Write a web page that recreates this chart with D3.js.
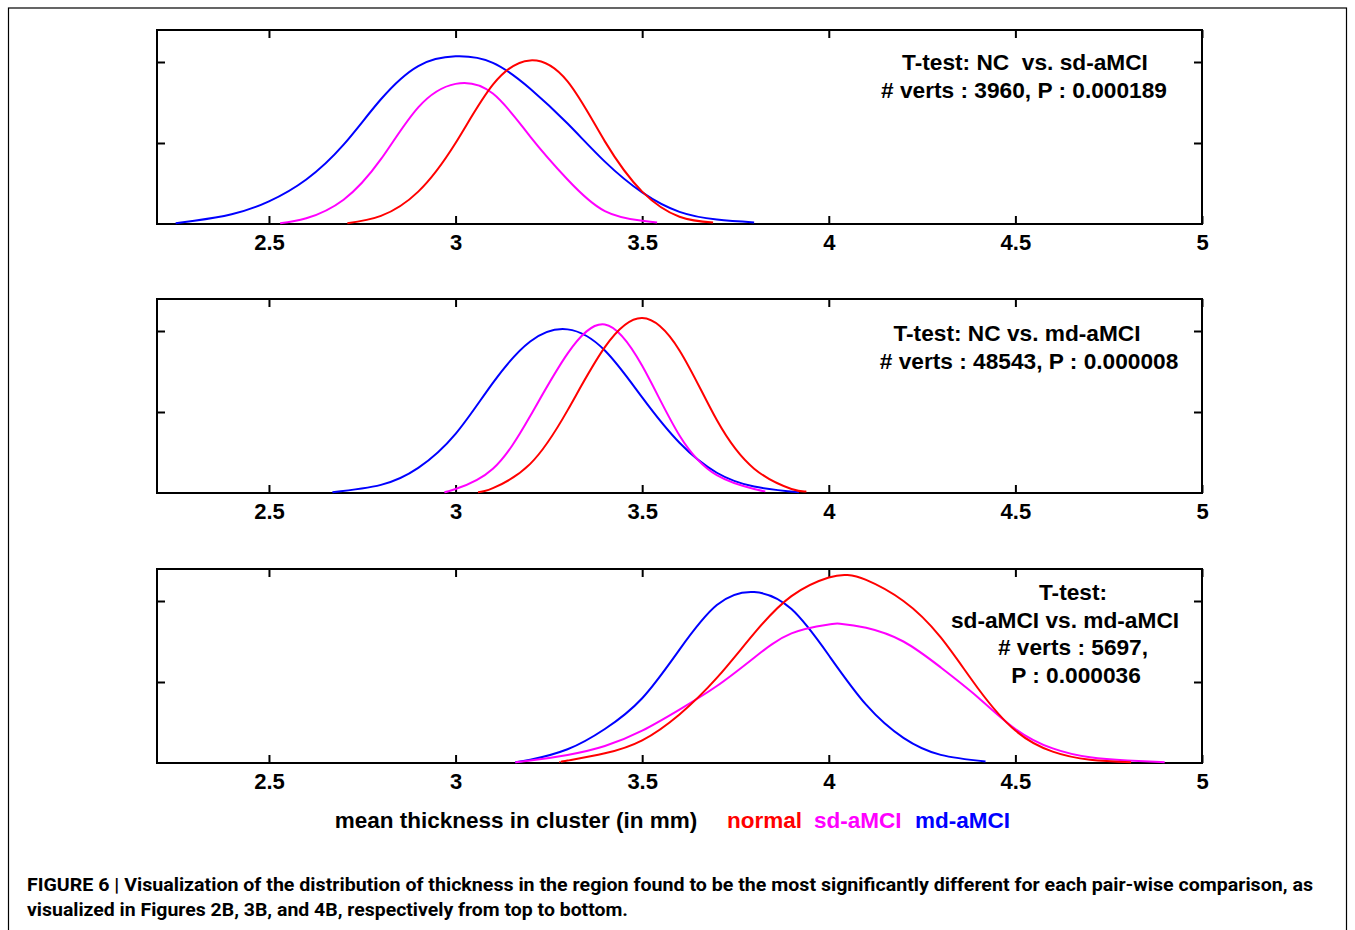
<!DOCTYPE html>
<html>
<head>
<meta charset="utf-8">
<script src="https://cdn.jsdelivr.net/npm/d3@7"></script>
<style>
  body { margin: 0; background: #fff; }
  text { font-family: "Liberation Sans", Arial, Helvetica, sans-serif; font-weight: bold; }
</style>
</head>
<body>
<svg id="chart" width="1355" height="930"></svg>
<script>
// ticks of the x axis (mm)
const xTicks = [2.5, 3, 3.5, 4, 4.5, 5];
const yTicks = [1, 2];

// top panel : NC vs sd-aMCI
const p1Normal = [[2.71,0.01],[2.8,0.10],[2.9,0.40],[3.0,1.00],[3.1,1.72],[3.2,2.02],[3.3,1.76],[3.4,1.02],[3.5,0.40],[3.6,0.09],[3.69,0.02]];
const p1Sd = [[2.53,0.01],[2.6,0.07],[2.7,0.30],[2.8,0.80],[2.9,1.44],[3.0,1.73],[3.1,1.61],[3.2,1.08],[3.3,0.55],[3.4,0.16],[3.5,0.04],[3.54,0.02]];
const p1Md = [[2.25,0.01],[2.3,0.04],[2.4,0.12],[2.5,0.28],[2.6,0.55],[2.7,0.98],[2.8,1.54],[2.9,1.95],[3.0,2.07],[3.1,1.99],[3.2,1.67],[3.3,1.24],[3.4,0.77],[3.5,0.39],[3.6,0.15],[3.7,0.055],[3.8,0.02]];

// middle panel : NC vs md-aMCI
const p2Normal = [[3.06,0.01],[3.1,0.06],[3.2,0.36],[3.3,1.02],[3.4,1.80],[3.5,2.16],[3.6,1.76],[3.7,0.90],[3.8,0.30],[3.9,0.05],[3.94,0.02]];
const p2Sd = [[2.97,0.01],[3.0,0.05],[3.1,0.30],[3.2,0.95],[3.3,1.72],[3.4,2.08],[3.5,1.57],[3.6,0.71],[3.7,0.22],[3.8,0.05],[3.83,0.02]];
const p2Md = [[2.67,0.01],[2.8,0.10],[2.9,0.31],[3.0,0.73],[3.1,1.36],[3.2,1.87],[3.3,2.02],[3.4,1.76],[3.5,1.18],[3.6,0.62],[3.7,0.25],[3.8,0.08],[3.92,0.01]];

// bottom panel : sd-aMCI vs md-aMCI
const p3Normal = [[3.28,0.01],[3.3,0.03],[3.4,0.12],[3.5,0.28],[3.6,0.60],[3.7,1.05],[3.8,1.60],[3.9,2.06],[4.0,2.29],[4.05,2.32],[4.1,2.26],[4.2,2.00],[4.3,1.55],[4.4,0.92],[4.5,0.40],[4.6,0.14],[4.7,0.04],[4.81,0.01]];
const p3Sd = [[3.16,0.01],[3.2,0.03],[3.3,0.10],[3.4,0.21],[3.5,0.40],[3.6,0.66],[3.7,0.95],[3.8,1.30],[3.9,1.60],[4.0,1.71],[4.03,1.72],[4.1,1.67],[4.2,1.50],[4.3,1.18],[4.4,0.81],[4.5,0.42],[4.6,0.18],[4.7,0.07],[4.8,0.03],[4.9,0.01]];
const p3Md = [[3.16,0.01],[3.2,0.04],[3.3,0.17],[3.4,0.42],[3.5,0.80],[3.6,1.40],[3.7,1.95],[3.8,2.11],[3.9,1.90],[4.0,1.33],[4.1,0.72],[4.2,0.31],[4.3,0.10],[4.42,0.02]];

const p1Text = ["T-test: NC  vs. sd-aMCI", "# verts : 3960, P : 0.000189"];
const p2Text = ["T-test: NC vs. md-aMCI", "# verts : 48543, P : 0.000008"];
const p3Text = ["T-test:", "sd-aMCI vs. md-aMCI", "# verts : 5697,", "P : 0.000036"];

const colors = { normal: "#ff0000", sd: "#ff00ff", md: "#0000ff" };

var svg = d3.select("#chart");

// cadre extérieur de la figure
svg.append("rect")
  .attr("x", 8.5).attr("y", 8).attr("width", 1338).attr("height", 940)
  .attr("fill", "none").attr("stroke", "#000").attr("stroke-width", 1.2);

var x = d3.scaleLinear().domain([2.2, 5]).range([157, 1202]);

var panels = [
  { top: 30, series: [p1Normal, p1Sd, p1Md], text: p1Text, tx: [1025, 1024], ty: 70 },
  { top: 299, series: [p2Normal, p2Sd, p2Md], text: p2Text, tx: [1017, 1029], ty: 341 },
  { top: 569, series: [p3Normal, p3Sd, p3Md], text: p3Text, tx: [1073, 1065, 1073, 1076], ty: 600 }
];

panels.forEach(function (p) {
  var h = 194;
  var y = d3.scaleLinear().domain([0, h / 81]).range([p.top + h, p.top]);
  var g = svg.append("g");

  // axes avec graduations vers l'intérieur
  var bottom = g.append("g").attr("transform", "translate(0," + (p.top + h) + ")")
    .call(d3.axisBottom(x).tickValues(xTicks).tickFormat(d3.format("")).tickSize(-8).tickSizeOuter(0).tickPadding(10));
  var top = g.append("g").attr("transform", "translate(0," + p.top + ")")
    .call(d3.axisTop(x).tickValues(xTicks).tickFormat("").tickSize(-8).tickSizeOuter(0));
  var left = g.append("g").attr("transform", "translate(157,0)")
    .call(d3.axisLeft(y).tickValues(yTicks).tickFormat("").tickSize(-8).tickSizeOuter(0));
  var right = g.append("g").attr("transform", "translate(1202,0)")
    .call(d3.axisRight(y).tickValues(yTicks).tickFormat("").tickSize(-8).tickSizeOuter(0));

  [bottom, top, left, right].forEach(function (a) {
    a.select(".domain").remove();
    a.selectAll("line").attr("stroke", "#000").attr("stroke-width", 2);
  });
  bottom.selectAll("text")
    .attr("font-size", 22).attr("fill", "#000")
    .style("font-family", '"Liberation Sans", Arial, sans-serif').style("font-weight", "bold");

  g.append("rect")
    .attr("x", 157).attr("y", p.top).attr("width", 1045).attr("height", h)
    .attr("fill", "none").attr("stroke", "#000").attr("stroke-width", 2);

  var line = d3.line()
    .x(function (d) { return x(d[0]); })
    .y(function (d) { return y(d[1]); })
    .curve(d3.curveNatural);

  // ordre de dessin : bleu, magenta puis rouge
  var cols = [colors.normal, colors.sd, colors.md];
  [2, 1, 0].forEach(function (i) {
    g.append("path")
      .datum(p.series[i])
      .attr("d", line)
      .attr("fill", "none")
      .attr("stroke", cols[i])
      .attr("stroke-width", 2);
  });

  g.selectAll("text.note")
    .data(p.text)
    .enter()
    .append("text")
    .attr("class", "note")
    .attr("x", function (d, i) { return p.tx[i]; })
    .attr("y", function (d, i) { return p.ty + i * 27.7; })
    .attr("text-anchor", "middle")
    .attr("font-size", 22.7)
    .attr("xml:space", "preserve")
    .style("white-space", "pre")
    .text(function (d) { return d; });
});

// titre de l'axe et légende
svg.append("text").attr("x", 516).attr("y", 828).attr("text-anchor", "middle")
  .attr("font-size", 22.5).text("mean thickness in cluster (in mm)");
svg.append("text").attr("x", 727).attr("y", 828).attr("font-size", 22.5)
  .attr("fill", colors.normal).text("normal");
svg.append("text").attr("x", 814).attr("y", 828).attr("font-size", 22.5)
  .attr("fill", colors.sd).text("sd-aMCI");
svg.append("text").attr("x", 915).attr("y", 828).attr("font-size", 22.5)
  .attr("fill", colors.md).text("md-aMCI");

// légende de la figure
svg.append("text").attr("x", 27).attr("y", 891).attr("font-size", 17.5)
  .style("font-family", '"Liberation Sans Narrow", "Arial Narrow", "Roboto", sans-serif')
  .attr("textLength", 1286).attr("lengthAdjust", "spacingAndGlyphs")
  .text("FIGURE 6 | Visualization of the distribution of thickness in the region found to be the most significantly different for each pair-wise comparison, as");
svg.append("text").attr("x", 27).attr("y", 916).attr("font-size", 17.5)
  .style("font-family", '"Liberation Sans Narrow", "Arial Narrow", "Roboto", sans-serif')
  .attr("textLength", 601).attr("lengthAdjust", "spacingAndGlyphs")
  .text("visualized in Figures 2B, 3B, and 4B, respectively from top to bottom.");
</script>
</body>
</html>
